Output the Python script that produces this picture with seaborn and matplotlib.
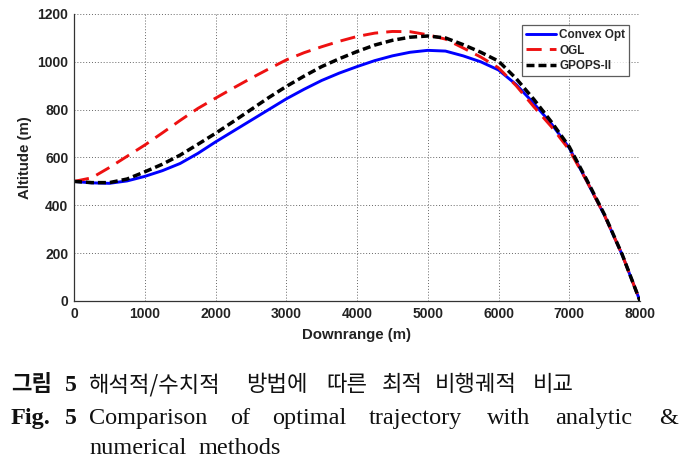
import numpy as np
import pandas as pd
import matplotlib
matplotlib.use("Agg")
import matplotlib.pyplot as plt
import seaborn as sns

# ---------------- data ----------------
downrange = [0, 250, 500, 750, 1000, 1250, 1500, 1750, 2000, 2250, 2500, 2750,
             3000, 3250, 3500, 3750, 4000, 4250, 4500, 4750, 5000, 5250, 5500,
             5750, 6000, 6250, 6500, 6750, 7000, 7250, 7500, 7750, 8000]
convex_opt = [500, 494, 492, 502, 521, 545, 575, 617, 665, 710, 755, 800,
              845, 885, 922, 953, 980, 1005, 1025, 1040, 1048, 1045, 1025,
              1000, 966, 905, 826, 740, 640, 500, 357, 192, 0]
ogl = [500, 515, 558, 605, 652, 703, 755, 805, 848, 890, 931, 970,
       1008, 1038, 1063, 1086, 1106, 1120, 1127, 1126, 1113, 1095, 1058,
       1020, 975, 900, 812, 728, 632, 500, 357, 192, 0]
gpops = [500, 495, 495, 510, 540, 572, 610, 655, 701, 750, 800, 850,
         897, 940, 980, 1013, 1043, 1070, 1090, 1103, 1108, 1100, 1072,
         1040, 1003, 930, 843, 748, 645, 505, 360, 193, 0]
series_names = ["Convex Opt", "OGL", "GPOPS-II"]
x_ticks = [0, 1000, 2000, 3000, 4000, 5000, 6000, 7000, 8000]
y_ticks = [0, 200, 400, 600, 800, 1000, 1200]
x_label = "Downrange (m)"
y_label = "Altitude (m)"

# ---------------- style ----------------
sns.set_theme(style="white")
plt.rcParams["font.family"] = ["Liberation Sans", "DejaVu Sans"]

W, H = 682, 475
fig = plt.figure(figsize=(W / 100, H / 100), dpi=100)
fig.patch.set_facecolor("white")
ax = fig.add_axes([74 / W, 1 - 301 / H, 566 / W, 287 / H])
ax.set_facecolor("white")

styles = {
    "Convex Opt": dict(color="#0000ff", lw=2.1, dashes=None),
    "OGL": dict(color="#ee1111", lw=2.1, dashes=(5.2, 2.8)),
    "GPOPS-II": dict(color="#000000", lw=2.5, dashes=(2.3, 1.15)),
}

for name, vals in zip(series_names, [convex_opt, ogl, gpops]):
    sub = pd.DataFrame({"Downrange": downrange, "Altitude": vals})
    st = styles[name]
    sns.lineplot(data=sub, x="Downrange", y="Altitude", ax=ax, color=st["color"],
                 linewidth=st["lw"], label=name)
    line = ax.lines[-1]
    if st["dashes"] is not None:
        line.set_dashes(st["dashes"])
        line.set_dash_capstyle("butt")

ax.set_xlim(0, 8000)
ax.set_ylim(0, 1200)
ax.set_xticks(x_ticks)
ax.set_yticks(y_ticks)
ax.set_xticklabels([str(v) for v in x_ticks], fontsize=10, fontweight="bold")
ax.set_yticklabels([str(v) for v in y_ticks], fontsize=10, fontweight="bold")
ax.tick_params(direction="in", length=3, width=0.8, colors="#222222", pad=4,
               labelcolor="#222222")
ax.set_xlabel(x_label, fontsize=10.8, fontweight="bold", color="#222222", labelpad=5)
ax.set_ylabel(y_label, fontsize=10.8, fontweight="bold", color="#222222", labelpad=4)

ax.grid(True, color="#666666", linestyle=(0, (1, 2)), linewidth=0.7)
for s in ["top", "right"]:
    ax.spines[s].set_visible(False)
for s in ["left", "bottom"]:
    ax.spines[s].set_color("#333333")
    ax.spines[s].set_linewidth(0.9)

handles, labels = ax.get_legend_handles_labels()
leg = ax.legend(handles, labels, loc="upper right", bbox_to_anchor=(0.981, 0.962),
                borderaxespad=0, frameon=True, fancybox=False, handlelength=2.5,
                handletextpad=0.3, borderpad=0.35, labelspacing=0.3,
                prop=dict(family="Liberation Sans", weight="bold", size=8.5))
leg.get_frame().set_edgecolor("#333333")
leg.get_frame().set_linewidth(0.9)

# ---------------- caption ----------------
def ft(px, py, s, **kw):
    fig.text(px / W, 1 - py / H, s, va="baseline", ha="left", **kw)

kr = dict(family=["Noto Sans CJK KR", "DejaVu Sans"], fontsize=16, color="#111111")
en = dict(family=["Liberation Serif", "DejaVu Serif"], fontsize=17.5, color="#111111")

ft(11, 391, "그림", family=["Noto Sans CJK KR"], fontsize=16, fontweight="bold", color="#111111")
ft(65, 391, "5", family=["Liberation Serif"], fontsize=17, fontweight="bold", color="#111111")
for x, w in [(89, "해석적/수치적"), (246, "방법에"), (326, "따른"), (382, "최적"),
             (435, "비행궤적"), (533, "비교")]:
    ft(x, 391, w, **kr)

ft(11, 424, "Fig.", family=["Liberation Serif"], fontsize=17.5, fontweight="bold", color="#111111")
ft(65, 424, "5", family=["Liberation Serif"], fontsize=17, fontweight="bold", color="#111111")
for x, w in [(89, "Comparison"), (230, "of"), (272, "optimal"), (369, "trajectory"),
             (487, "with"), (555, "analytic"), (659, "&")]:
    ft(x, 424, w, **en)
for x, w in [(89, "numerical"), (199, "methods")]:
    ft(x, 454, w, **en)

fig.savefig("out.png", dpi=100, facecolor="white")
